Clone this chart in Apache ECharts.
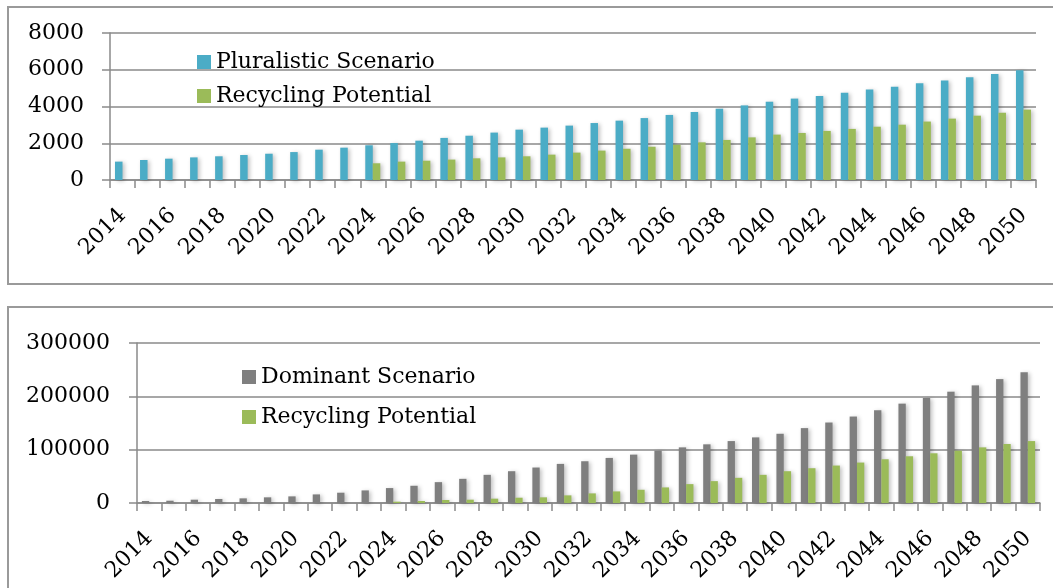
<!DOCTYPE html>
<html>
<head>
<meta charset="utf-8">
<script src="https://cdn.jsdelivr.net/npm/echarts@6/dist/echarts.min.js"></script>
<style>
	html, body { margin: 0; padding: 0; background: #fff; }
	#chart { width: 1053px; height: 588px; }
</style>
</head>
<body>
<div id="chart"></div>
<script>
const years = ['2014', '2015', '2016', '2017', '2018', '2019', '2020', '2021', '2022', '2023', '2024', '2025', '2026', '2027', '2028', '2029', '2030', '2031', '2032', '2033', '2034', '2035', '2036', '2037', '2038', '2039', '2040', '2041', '2042', '2043', '2044', '2045', '2046', '2047', '2048', '2049', '2050']

// top chart
const pluralistic = [1000, 1090, 1160, 1230, 1290, 1360, 1430, 1520, 1650, 1760, 1890, 2010, 2140, 2290, 2410, 2580, 2740, 2850, 2960, 3100, 3230, 3370, 3540, 3700, 3880, 4060, 4260, 4430, 4570, 4750, 4920, 5080, 5260, 5420, 5590, 5770, 5970]
const recyclingTop = [null, null, null, null, null, null, null, null, null, null, 910, 1000, 1050, 1110, 1180, 1230, 1290, 1380, 1490, 1600, 1700, 1810, 1920, 2050, 2180, 2320, 2470, 2560, 2670, 2780, 2900, 3010, 3180, 3340, 3500, 3660, 3830]
const topTicks = { min: 0, max: 8000, interval: 2000 }

// bottom chart
const dominant = [3700, 4300, 6200, 7500, 8700, 10600, 12400, 16100, 19300, 23600, 28000, 32300, 39100, 45300, 52800, 59600, 66500, 73300, 78300, 84500, 90700, 98100, 104300, 110000, 116100, 123000, 129800, 140400, 150900, 162100, 173900, 186300, 196900, 208700, 220500, 232300, 245300]
const recyclingBottom = [null, null, null, null, null, null, null, null, null, null, 2500, 3700, 5600, 6200, 8100, 9900, 10600, 14300, 18000, 21700, 24800, 29200, 35400, 41000, 47200, 52800, 59600, 65200, 70200, 75800, 82000, 87600, 93200, 98100, 104300, 110600, 116100]
const bottomTicks = { min: 0, max: 300000, interval: 100000 }

const font = 'DejaVu Serif'
const lineGray = '#8a8a8a'
const colors = { blue: '#4BACC6', green: '#9BBB59', gray: '#7F7F7F' }

const myChart = echarts.init(document.getElementById('chart'))

const xAxisBase = (gridIndex) => ({
	type: 'category',
	gridIndex: gridIndex,
	data: years,
	boundaryGap: true,
	axisLine: { lineStyle: { color: lineGray, width: 1.5 } },
	axisTick: { show: true, interval: 0, length: 8, lineStyle: { color: lineGray, width: 1.5 } },
	axisLabel: { interval: 1, rotate: 45, margin: 32, fontFamily: font, fontSize: 22, color: '#000' },
})

const yAxisBase = (gridIndex, ticks, margin) => ({
	type: 'value',
	gridIndex: gridIndex,
	min: ticks.min,
	max: ticks.max,
	interval: ticks.interval,
	axisLine: { show: true, lineStyle: { color: lineGray, width: 1.5 } },
	axisTick: { show: true, length: 8, lineStyle: { color: lineGray, width: 1.5 } },
	splitLine: { lineStyle: { color: lineGray, width: 1.5 } },
	axisLabel: { margin: margin, fontFamily: font, fontSize: 22, color: '#000', formatter: (v) => String(v) },
})

const barShadow = {
	shadowColor: 'rgba(0,0,0,0.25)',
	shadowBlur: 4,
	shadowOffsetX: 2,
	shadowOffsetY: 1,
}

const barSeries = (name, data, color, idx) => ({
	name: name,
	type: 'bar',
	xAxisIndex: idx,
	yAxisIndex: idx,
	data: data,
	barGap: '0%',
	barCategoryGap: '40%',
	itemStyle: Object.assign({ color: color }, barShadow),
	emphasis: { disabled: true },
})

let option = {
	animation: false,
	backgroundColor: '#fff',
	graphic: [
		{ type: 'rect', shape: { x: 8, y: 7, width: 1100, height: 277 }, style: { fill: 'none', stroke: '#9a9a9a', lineWidth: 2 }, silent: true },
		{ type: 'rect', shape: { x: 8, y: 307, width: 1100, height: 400 }, style: { fill: 'none', stroke: '#9a9a9a', lineWidth: 2 }, silent: true },
	],
	legend: [
		{
			data: ['Pluralistic Scenario', 'Recycling Potential'],
			orient: 'vertical',
			left: 192,
			top: 46,
			itemWidth: 14,
			itemHeight: 14,
			itemGap: 12,
			icon: 'rect',
			textStyle: { fontFamily: font, fontSize: 22, color: '#000' },
		},
		{
			data: ['Dominant Scenario', 'Recycling Potential'],
			orient: 'vertical',
			left: 237,
			top: 361,
			itemWidth: 14,
			itemHeight: 14,
			itemGap: 18,
			icon: 'rect',
			textStyle: { fontFamily: font, fontSize: 22, color: '#000' },
		},
	],
	grid: [
		{ left: 110, top: 33, width: 926, height: 147 },
		{ left: 137, top: 343, width: 903, height: 160 },
	],
	xAxis: [xAxisBase(0), xAxisBase(1)],
	yAxis: [yAxisBase(0, topTicks, 26), yAxisBase(1, bottomTicks, 27)],
	series: [
		barSeries('Pluralistic Scenario', pluralistic, colors.blue, 0),
		barSeries('Recycling Potential', recyclingTop, colors.green, 0),
		barSeries('Dominant Scenario', dominant, colors.gray, 1),
		barSeries('Recycling Potential', recyclingBottom, colors.green, 1),
	],
}
myChart.setOption(option)

window.addEventListener('resize', () => {
	myChart.resize()
})
</script>
</body>
</html>
